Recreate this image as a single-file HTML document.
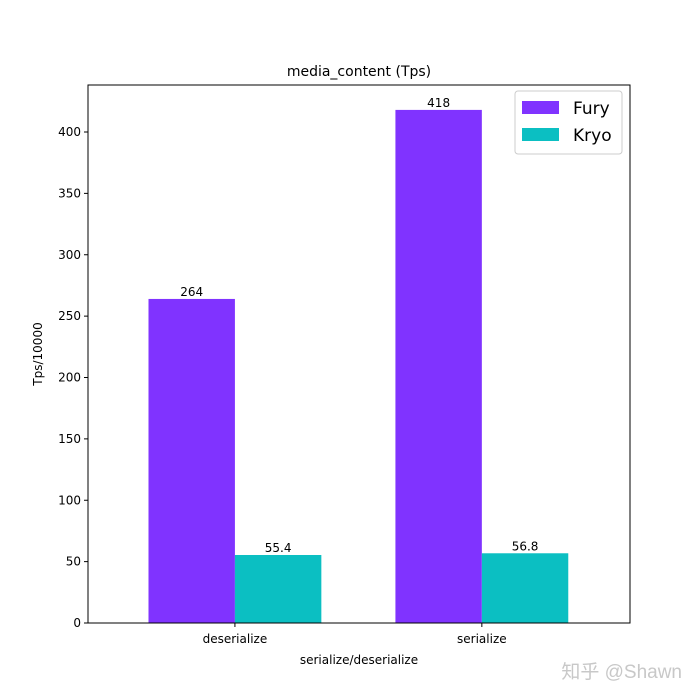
<!DOCTYPE html>
<html><head><meta charset="utf-8"><style>
body{margin:0;background:#fff;}
svg{display:block;font-family:"DejaVu Sans","Liberation Sans",sans-serif;}
</style></head><body>
<svg id="chart" width="700" height="700" viewBox="0 0 700 700" xmlns="http://www.w3.org/2000/svg">
<rect width="700" height="700" fill="#fff"/>
<text x="359" y="76" font-size="14" text-anchor="middle">media_content (Tps)</text>
<g id="plot"></g>
<rect x="88" y="85" width="542" height="538" fill="none" stroke="#000" stroke-width="1"/>
<text transform="translate(42,354) rotate(-90)" font-size="12" text-anchor="middle">Tps/10000</text>
<text x="359" y="664" font-size="12" text-anchor="middle">serialize/deserialize</text>
<g>
<rect x="515" y="91" width="107" height="63" fill="#fff" stroke="#ccc" rx="3"/>
<rect x="522" y="101" width="37" height="13" fill="#8033ff"/>
<text x="573" y="114" font-size="17">Fury</text>
<rect x="522" y="128" width="37" height="13" fill="#0bbfc2"/>
<text x="573" y="141" font-size="17">Kryo</text>
</g>
<text x="682" y="678" font-size="19" fill="#c8c8c8" text-anchor="end" font-family="'Liberation Sans','Noto Sans CJK SC',sans-serif">知乎 @Shawn</text>
</svg>
<script>
const categories = ["deserialize", "serialize"];
const furyValues = [264, 418];
const kryoValues = [55.4, 56.8];
const furyLabels = ["264", "418"];
const kryoLabels = ["55.4", "56.8"];
const yTicks = [0, 50, 100, 150, 200, 250, 300, 350, 400];

const NS = "http://www.w3.org/2000/svg";
const g = document.getElementById("plot");
const L = 88, R = 630, T = 85, B = 623;
const xMin = -0.595, xMax = 1.6;
const yScale = 491 / 400;
const x = v => L + (v - xMin) / (xMax - xMin) * (R - L);
const y = v => B - v * yScale;
const bw = 0.35;
function mk(tag, attrs){const e=document.createElementNS(NS,tag);for(const k in attrs)e.setAttribute(k,attrs[k]);g.appendChild(e);return e;}

yTicks.forEach(t=>{
  const ln = mk("line",{x1:L-4,x2:L,y1:y(t),y2:y(t),stroke:"#000"});
  
  
  const tx = mk("text",{x:L-7,y:y(t)+4,"font-size":12,"text-anchor":"end"});
  tx.textContent = t;
  
  
});
categories.forEach((c,i)=>{
  const ln = mk("line",{x1:x(i),x2:x(i),y1:B,y2:B+4,stroke:"#000"});
  
  
  const tx = mk("text",{x:x(i),y:B+20,"font-size":12,"text-anchor":"middle"});
  tx.textContent = c;
  
  

  const f = mk("rect",{x:x(i-bw),y:y(furyValues[i]),width:x(i)-x(i-bw),height:B-y(furyValues[i]),fill:"#8033ff"});
  
  
  const k = mk("rect",{x:x(i),y:y(kryoValues[i]),width:x(i+bw)-x(i),height:B-y(kryoValues[i]),fill:"#0bbfc2"});
  
  

  const fl = mk("text",{x:x(i-bw/2),y:y(furyValues[i])-3,"font-size":12,"text-anchor":"middle"});
  fl.textContent = furyLabels[i];
  
  
  const kl = mk("text",{x:x(i+bw/2),y:y(kryoValues[i])-3,"font-size":12,"text-anchor":"middle"});
  kl.textContent = kryoLabels[i];
  
  
});
</script>
</body></html>
